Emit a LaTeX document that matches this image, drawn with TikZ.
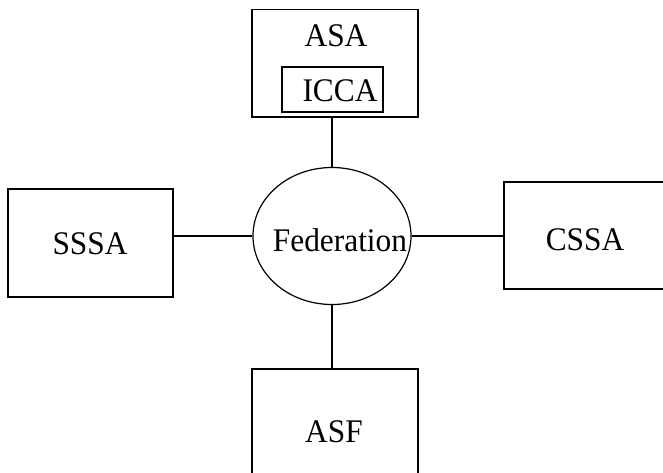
\documentclass[tikz,border=0pt]{standalone}
\usepackage{fontspec}
\setmainfont{Liberation Serif}
\usetikzlibrary{shapes}
\newcommand{\salbl}[1]{\scalebox{0.95}[1]{#1}}

\begin{document}
\begin{tikzpicture}[x=1pt,y=-1pt,line width=1.2pt]
    \tikzstyle{sabox}=[rectangle,draw=black,inner sep=0pt]
    \tikzstyle{fedvertex}=[ellipse,draw=black,inner sep=0pt,minimum width=158pt,minimum height=137pt]
    \tikzstyle{salabel}=[inner sep=0pt,font=\fontsize{33}{38}\selectfont]

    \clip (0,0) rectangle (663,473);

    \node[sabox,minimum width=166pt,minimum height=107.5pt] (asa) at (335,63.25) {};
    \node[salabel] (asalabel) at (336,36) {\salbl{ASA}};
    \node[sabox,minimum width=101pt,minimum height=45pt] (icca) at (332.5,89.5) {};
    \node[salabel] (iccalabel) at (340,91) {\salbl{ICCA}};

    \node[fedvertex] (fed) at (332,236) {};
    \node[salabel] (fedlabel) at (340,240) {\salbl{Federation}};

    \node[sabox,minimum width=165pt,minimum height=108pt] (sssa) at (90.5,243) {};
    \node[salabel] (sssalabel) at (90,244) {\salbl{SSSA}};
    \node[sabox,minimum width=176pt,minimum height=107pt] (cssa) at (592,235.5) {};
    \node[salabel] (cssalabel) at (585,240) {\salbl{CSSA}};
    \node[sabox,minimum width=166pt,minimum height=126pt] (asf) at (335,432) {};
    \node[salabel] (asflabel) at (334,432) {\salbl{ASF}};

    \draw (asa.south -| fed) -- (fed.north);
    \draw (fed.south) -- (fed.south |- asf.north);
    \draw (fed.west) -- (fed.west -| sssa.east);
    \draw (fed.east) -- (fed.east -| cssa.west);

\end{tikzpicture}
\end{document}
